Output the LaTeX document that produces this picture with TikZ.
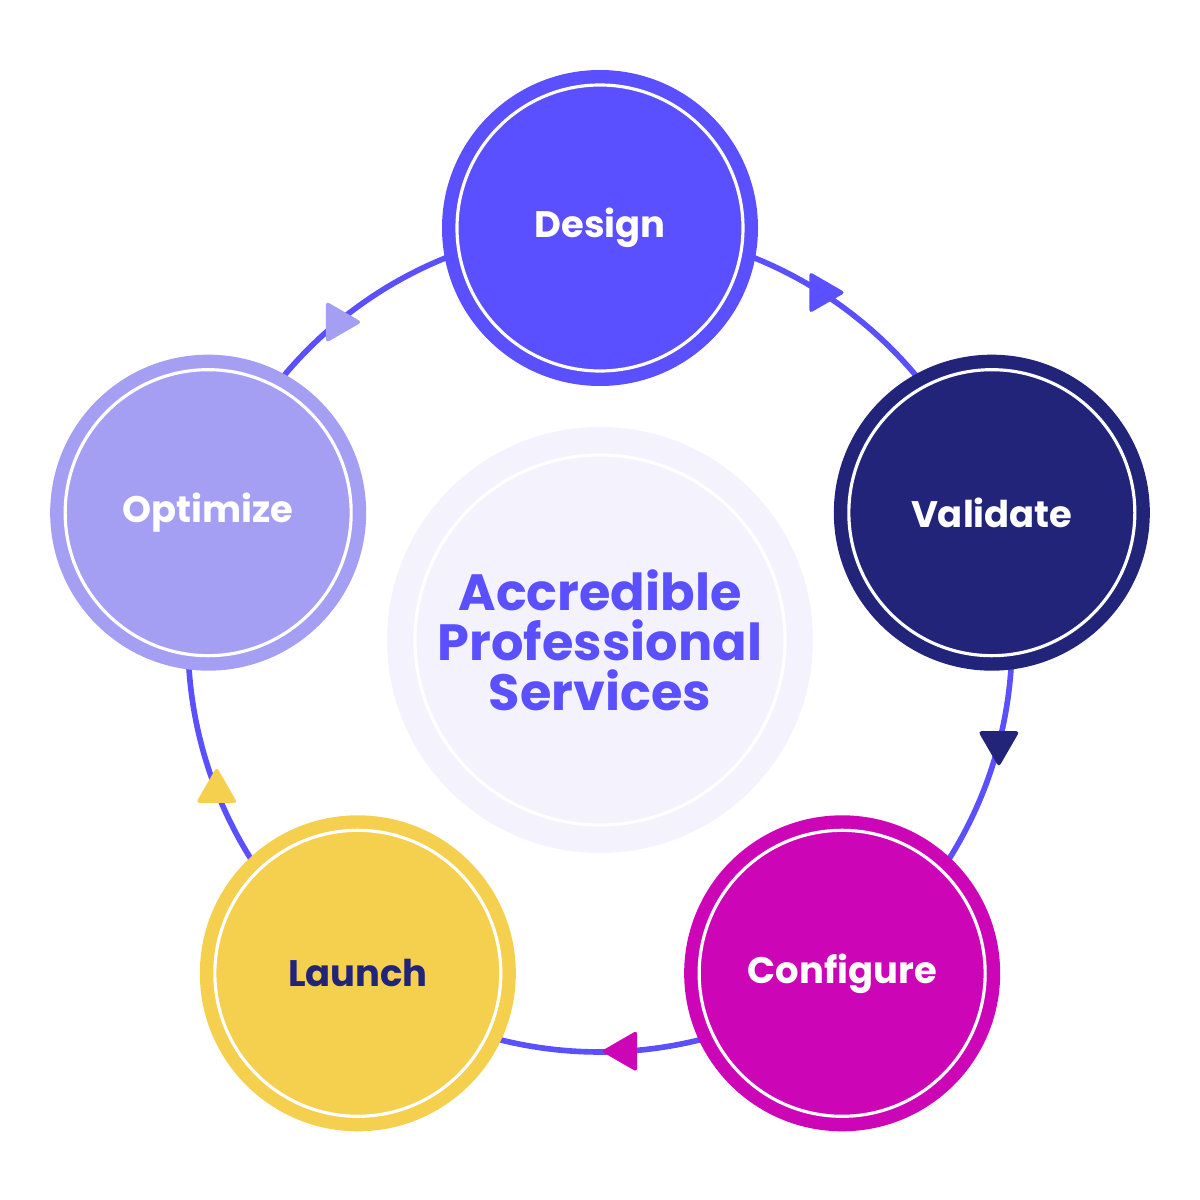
\documentclass[tikz,border=0pt]{standalone}
\usepackage{fontspec}
\setmainfont{Poppins}
\usetikzlibrary{shapes.geometric,calc}
\definecolor{cDes}{HTML}{5B50FF}
\definecolor{cVal}{HTML}{22247A}
\definecolor{cCon}{HTML}{CC06B6}
\definecolor{cLau}{HTML}{F5CF4E}
\definecolor{cOpt}{HTML}{A59FF3}
\definecolor{cBg}{HTML}{F4F3FD}
\tikzset{
 stepnode/.style={circle,minimum size=3.16cm,inner sep=0pt,font=\fontsize{10.5}{12}\selectfont\bfseries,text=white},
 ring/.style={draw=white,line width=0.9pt},
 tri/.style={isosceles triangle,isosceles triangle apex angle=60,minimum height=0.36cm,inner sep=0pt,rounded corners=1pt}
}
\begin{document}
\begin{tikzpicture}
\useasboundingbox (0,0) rectangle (12,12);
\coordinate (C) at (6,5.6);
\draw[cDes,line width=1.6pt] (C) circle (4.12);
% center
\node[circle,fill=cBg,minimum size=4.26cm] (ctr) at (C) {};
\draw[ring] (C) circle (1.85);
\node[align=center,text=cDes,font=\fontsize{14.5}{14.2}\selectfont\bfseries] (ctrt) at (C) {Accredible\\Professional\\Services};
% steps
\foreach \n/\a/\c/\t/\tc in {des/90/cDes/Design/white,val/18/cVal/Validate/white,con/-54/cCon/Configure/white,lau/-126/cLau/Launch/cVal,opt/162/cOpt/Optimize/white}{
 \node[stepnode,fill=\c,text=\tc] (\n) at ($(C)+(\a:4.12)$) {\t};
 \draw[ring] (\n) circle (1.43);
}
% arrows
\foreach \n/\a/\c in {a1/57.5/cDes,a2/-14.5/cVal,a3/-86.5/cCon,a4/-158.5/cLau,a5/129.5/cOpt}{
 \pgfmathsetmacro{\r}{\a-90}
 \node[tri,fill=\c,shape border rotate=\r] (\n) at ($(C)+(\a:4.12)$) {};
}
\end{tikzpicture}
\end{document}
